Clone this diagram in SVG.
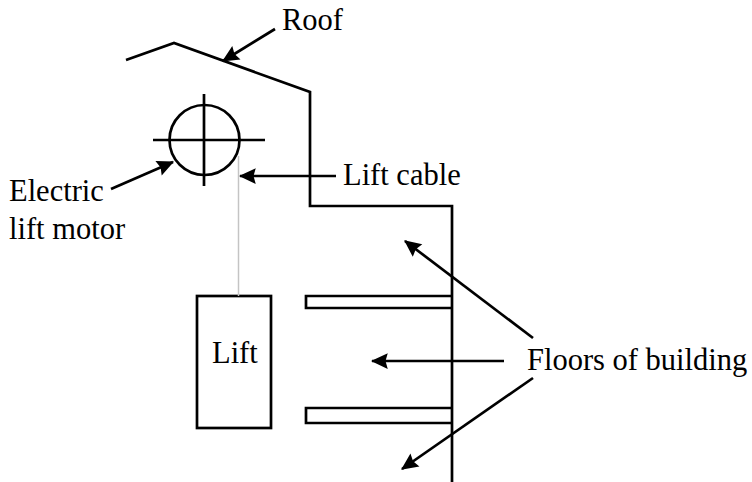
<svg xmlns="http://www.w3.org/2000/svg" width="752" height="482" viewBox="0 0 752 482">
<style>
text{font-family:"Liberation Serif","Times New Roman",serif;font-size:30.5px;fill:#000}
.l{fill:none;stroke:#000;stroke-width:2.7}
.a{fill:none;stroke:#000;stroke-width:2.7}
.h{fill:#000;stroke:none}
</style>
<defs><marker id="ah" viewBox="0 0 16 16" refX="15" refY="8" markerWidth="18" markerHeight="18" markerUnits="userSpaceOnUse" orient="auto-start-reverse"><path class="h" d="M1 1L16 8L1 15L3 8Z"/></marker></defs>
<rect width="752" height="482" fill="#fff"/>
<g id="building"><path class="l" d="M126 60L174 43L310 92V206H452V482"/></g>
<g id="floor-upper"><path class="l" d="M452 296H306V308H452"/></g>
<g id="floor-lower"><path class="l" d="M452 408H306V423H452"/></g>
<g id="motor"><circle class="l" cx="204.5" cy="140" r="35"/><path class="l" d="M153 140H265M204 94V186"/></g>
<g id="lift"><rect class="l" x="197" y="296" width="74" height="132"/><text x="212" y="363">Lift</text></g>
<g id="connectors">
<path d="M238.5 156V296" fill="none" stroke="#c4c4c4" stroke-width="1.5"/>
<path class="a" marker-start="url(#ah)" d="M223 61L275 29"/>
<path class="a" marker-start="url(#ah)" d="M173 162L111 189"/>
<path class="a" marker-start="url(#ah)" d="M240 176H336"/>
<path class="a" marker-start="url(#ah)" d="M405 241L533 338"/>
<path class="a" marker-start="url(#ah)" d="M372 361H504"/>
<path class="a" marker-start="url(#ah)" d="M402 469L533 378"/>
</g>
<g id="labels">
<text x="282" y="30">Roof</text>
<text x="9" y="201">Electric</text>
<text x="9" y="239">lift motor</text>
<text x="343" y="185">Lift cable</text>
<text x="527" y="370">Floors of building</text>
</g>
</svg>
